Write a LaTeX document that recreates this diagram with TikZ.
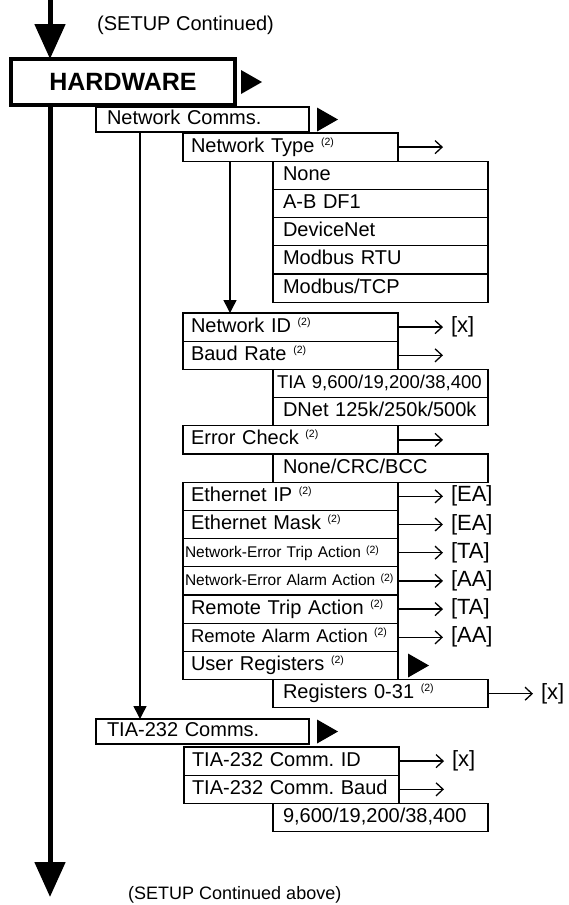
\documentclass[tikz,border=0pt]{standalone}
\usepackage{fontspec}
\setmainfont{Liberation Sans}
\usetikzlibrary{arrows.meta,positioning}

\newcommand{\rowfont}{\fontsize{20}{22}\selectfont}
\newcommand{\fnote}[1][7pt]{\raisebox{#1}{\fontsize{10.5}{11}\selectfont(2)}}
\newcommand{\playmark}[2][8pt]{\fill ([xshift=#1,yshift=12pt]#2.east) -- ++(21pt,-12pt) -- ++(-21pt,-12pt) -- cycle;}

\begin{document}
\begin{tikzpicture}[
        x=1pt, y=-1pt,
        every node/.style={font=\rowfont},
        head/.style={draw, line width=4pt, minimum width=224pt, minimum height=46pt, outer sep=0pt, font=\fontsize{25}{28}\selectfont\bfseries},
        menu/.style={draw, line width=2.5pt, text width=191pt, inner xsep=11pt, inner ysep=0pt, minimum height=25pt, text height=14pt, text depth=4pt, align=left, outer sep=0pt},
        row/.style={draw, line width=1.2pt, text width=199pt, inner xsep=8pt, inner ysep=0pt, minimum height=28.2pt, text height=14pt, text depth=4pt, align=left, outer sep=0pt},
        tightrow/.style={row, text width=211pt, inner xsep=2pt, font=\fontsize{15.5}{17}\selectfont},
        opt/.style={row, text width=195pt, inner xsep=10pt},
        tag/.style={inner xsep=8pt, inner ysep=0pt, outer sep=0pt, font=\fontsize{22}{24}\selectfont},
        link/.style={line width=1.3pt, -{Straight Barb[length=7pt,width=13pt]}},
        drop/.style={line width=1.5pt, -{Triangle[length=13pt,width=13pt]}},
        spine/.style={line width=5pt, -{Triangle[length=35pt,width=30pt]}}
    ]
    \useasboundingbox (0,0) rectangle (568,905);

    % Main spine
    \node[head, anchor=north west] (hw) at (11,59) {HARDWARE};
    \coordinate (top) at (50,0);
    \coordinate (bottom) at (50,897);
    \draw[spine] (top) -- (top |- hw.north);
    \draw[spine] (hw.south -| bottom) -- (bottom);
    \playmark[6pt]{hw}
    \node[anchor=west, inner sep=0pt] (cont) at (97,25) {(SETUP Continued)};
    \node[anchor=west, inner sep=0pt, font=\fontsize{18}{20}\selectfont] (contabove) at (128,895) {(SETUP Continued above)};

    % Network Comms. menu
    \node[menu, anchor=north west] (netcomms) at (96,107) {Network Comms.};
    \playmark{netcomms}
    \node[row, anchor=north west] (ntype) at (183,133) {Network Type \fnote};
    \node[opt, below right=0pt and 90pt of ntype.south west] (none) {None};
    \node[opt, below=0pt of none] (abdf) {A-B DF1};
    \node[opt, below=0pt of abdf] (dnet) {DeviceNet};
    \node[opt, below=0pt of dnet] (rtu) {Modbus RTU};
    \node[opt, below=0pt of rtu] (tcp) {Modbus/TCP};

    \node[row, anchor=north west] (netid) at (183,313) {Network ID \fnote};
    \node[row, below=0pt of netid] (baud) {Baud Rate \fnote};
    \node[opt, below right=0pt and 90pt of baud.south west, inner xsep=4pt, text width=207pt, font=\fontsize{18.5}{20}\selectfont] (tiarate) {TIA 9,600/19,200/38,400};
    \node[opt, below=0pt of tiarate] (dnetrate) {DNet 125k/250k/500k};
    \node[row, below right=0pt and -90pt of dnetrate.south west] (errchk) {Error Check \fnote};
    \node[opt, below right=0pt and 90pt of errchk.south west] (crc) {None/CRC/BCC};
    \node[row, below right=0pt and -90pt of crc.south west] (ethip) {Ethernet IP \fnote};
    \node[row, below=0pt of ethip] (ethmask) {Ethernet Mask \fnote};
    \node[tightrow, below=0pt of ethmask] (netrip) {Network-Error Trip Action \fnote[4pt]};
    \node[tightrow, below=0pt of netrip] (nealarm) {Network-Error Alarm Action \fnote[4pt]};
    \node[row, below=0pt of nealarm] (remtrip) {Remote Trip Action \fnote};
    \node[row, below=0pt of remtrip, font=\fontsize{18.5}{20}\selectfont] (remalarm) {Remote Alarm Action \fnote};
    \node[row, below=0pt of remalarm] (userreg) {User Registers \fnote};
    \playmark[10pt]{userreg}
    \node[opt, below right=0pt and 90pt of userreg.south west] (regs) {Registers 0-31 \fnote};

    % TIA-232 Comms. menu
    \node[menu, anchor=north west] (tia) at (96,719) {TIA-232 Comms.};
    \playmark{tia}
    \node[row, anchor=north west] (commid) at (184,747) {TIA-232 Comm.\ ID};
    \node[row, below=0pt of commid] (commbaud) {TIA-232 Comm.\ Baud};
    \node[opt, below right=0pt and 89pt of commbaud.south west] (tiabaud) {9,600/19,200/38,400};

    % Drop arrows
    \draw[drop] ([xshift=44pt]netcomms.south west) -- ([xshift=44pt]tia.north west);
    \draw[drop] ([xshift=47pt]ntype.south west) -- ([xshift=47pt]netid.north west);

    % Value tags
    \node[tag, right=45pt of netid] (netid-x) {[x]};
    \node[tag, right=45pt of ethip] (ethip-ea) {[EA]};
    \node[tag, right=45pt of ethmask] (ethmask-ea) {[EA]};
    \node[tag, right=45pt of netrip] (netrip-ta) {[TA]};
    \node[tag, right=45pt of nealarm] (nealarm-aa) {[AA]};
    \node[tag, right=45pt of remtrip] (remtrip-ta) {[TA]};
    \node[tag, right=45pt of remalarm] (remalarm-aa) {[AA]};
    \node[tag, right=45pt of regs] (regs-x) {[x]};
    \node[tag, right=45pt of commid] (commid-x) {[x]};
    \coordinate (ntype-out) at ([xshift=45pt]ntype.east);
    \coordinate (baud-out) at ([xshift=45pt]baud.east);
    \coordinate (errchk-out) at ([xshift=45pt]errchk.east);
    \coordinate (commbaud-out) at ([xshift=45pt]commbaud.east);

    % Arrows
    \draw[link] (ntype) -- (ntype-out);
    \draw[link] (netid) -- (netid-x);
    \draw[link] (baud) -- (baud-out);
    \draw[link] (errchk) -- (errchk-out);
    \draw[link] (ethip) -- (ethip-ea);
    \draw[link] (ethmask) -- (ethmask-ea);
    \draw[link] (netrip) -- (netrip-ta);
    \draw[link] (nealarm) -- (nealarm-aa);
    \draw[link] (remtrip) -- (remtrip-ta);
    \draw[link] (remalarm) -- (remalarm-aa);
    \draw[link] (regs) -- (regs-x);
    \draw[link] (commid) -- (commid-x);
    \draw[link] (commbaud) -- (commbaud-out);

\end{tikzpicture}
\end{document}
